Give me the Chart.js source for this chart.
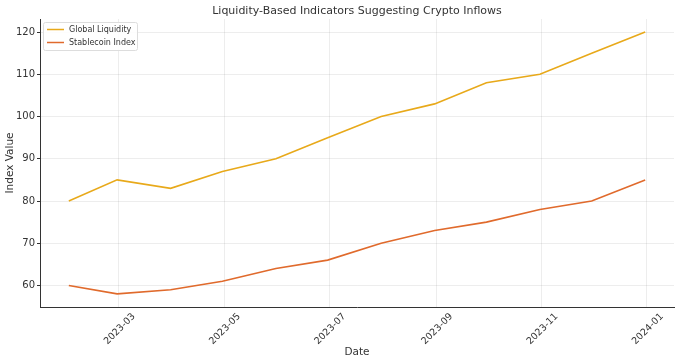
<!DOCTYPE html>
<html>
<head>
<meta charset="utf-8">
<script src="https://cdn.jsdelivr.net/npm/chart.js@4"></script>
<style>
  html, body { margin: 0; padding: 0; background: #fff; }
  #wrap { width: 680px; height: 363px; }
</style>
</head>
<body>
<div id="wrap"><canvas id="c" width="680" height="363"></canvas></div>
<script>
// month-end dates of the data points
const dates = ['2023-01-31', '2023-02-28', '2023-03-31', '2023-04-30', '2023-05-31', '2023-06-30',
               '2023-07-31', '2023-08-31', '2023-09-30', '2023-10-31', '2023-11-30', '2023-12-31'];
const globalLiquidity = [80, 85, 83, 87, 90, 95, 100, 103, 108, 110, 115, 120];
const stablecoinIndex = [60, 58, 59, 61, 64, 66, 70, 73, 75, 78, 80, 85];
const tickLabels = ['2023-03', '2023-05', '2023-07', '2023-09', '2023-11', '2024-01'];
const yTicks = [60, 70, 80, 90, 100, 110, 120];

const FONT = '"DejaVu Sans", sans-serif';

// dates -> day numbers so a linear scale can place them
const toDay = s => {
  const p = s.split('-').map(Number);
  return Date.UTC(p[0], p[1] - 1, p[2] || 1) / 86400000;
};
const days = dates.map(toDay);
const tickDays = tickLabels.map(toDay);
const span = days[days.length - 1] - days[0];

const mk = vals => vals.map((v, i) => ({ x: days[i], y: v }));

// legend drawn inside the plot, top-left
const boxLegend = {
  id: 'boxLegend',
  afterDraw(chart) {
    const ctx = chart.ctx, a = chart.chartArea;
    const x = a.left + 3, y = a.top + 3, w = 94, h = 28;
    ctx.save();
    ctx.fillStyle = 'rgba(255,255,255,0.85)';
    ctx.strokeStyle = '#dddddd';
    ctx.lineWidth = 1;
    ctx.beginPath();
    ctx.roundRect(x + 0.5, y + 0.5, w, h, 2);
    ctx.fill();
    ctx.stroke();
    ctx.font = '8px ' + FONT;
    ctx.textBaseline = 'middle';
    chart.data.datasets.forEach((ds, i) => {
      const ly = y + 7.5 + i * 13;
      ctx.strokeStyle = ds.borderColor;
      ctx.lineWidth = 1.5;
      ctx.beginPath();
      ctx.moveTo(x + 4, ly);
      ctx.lineTo(x + 21, ly);
      ctx.stroke();
      ctx.fillStyle = '#333';
      ctx.fillText(ds.label, x + 26, ly);
    });
    ctx.restore();
  }
};

new Chart(document.getElementById('c'), {
  type: 'line',
  data: {
    datasets: [
      { label: 'Global Liquidity', data: mk(globalLiquidity), borderColor: '#E8A91A', borderWidth: 1.6, pointRadius: 0, tension: 0 },
      { label: 'Stablecoin Index', data: mk(stablecoinIndex), borderColor: '#E06A2C', borderWidth: 1.6, pointRadius: 0, tension: 0 }
    ]
  },
  options: {
    responsive: false,
    animation: false,
    layout: { padding: { top: 0, right: 6, bottom: 0, left: 0 } },
    plugins: {
      legend: { display: false },
      tooltip: { enabled: false },
      title: {
        display: true,
        fullSize: false,
        text: 'Liquidity-Based Indicators Suggesting Crypto Inflows',
        color: '#333',
        font: { family: FONT, size: 11, weight: 'normal' },
        padding: { top: 5, bottom: 0.8 }
      }
    },
    scales: {
      x: {
        type: 'linear',
        min: days[0] - span * 0.05,
        max: days[days.length - 1] + span * 0.05,
        afterBuildTicks: s => { s.ticks = tickDays.map(v => ({ value: v })); },
        afterFit: s => { s.height = 56; },
        ticks: {
          callback: (v) => tickLabels[tickDays.indexOf(v)],
          minRotation: 45, maxRotation: 45,
          labelOffset: 15,
          color: '#333', font: { family: FONT, size: 9.5 }, padding: 4
        },
        grid: { color: 'rgba(0,0,0,0.07)', drawTicks: false },
        border: { color: '#333', width: 1 },
        title: { display: true, text: 'Date', color: '#333', font: { family: FONT, size: 10.5 }, padding: { top: 0, bottom: 4 } }
      },
      y: {
        min: 54.9, max: 123.1,
        afterBuildTicks: s => { s.ticks = yTicks.map(v => ({ value: v })); },
        afterFit: s => { s.width = 40; },
        ticks: { color: '#333', font: { family: FONT, size: 10 }, padding: 2 },
        grid: { color: 'rgba(0,0,0,0.07)', tickColor: '#333', tickLength: 3 },
        border: { color: '#333', width: 1 },
        title: { display: true, text: 'Index Value', color: '#333', font: { family: FONT, size: 10.5 }, padding: { top: 4, bottom: 0 } }
      }
    }
  },
  plugins: [boxLegend]
});
</script>
</body>
</html>
